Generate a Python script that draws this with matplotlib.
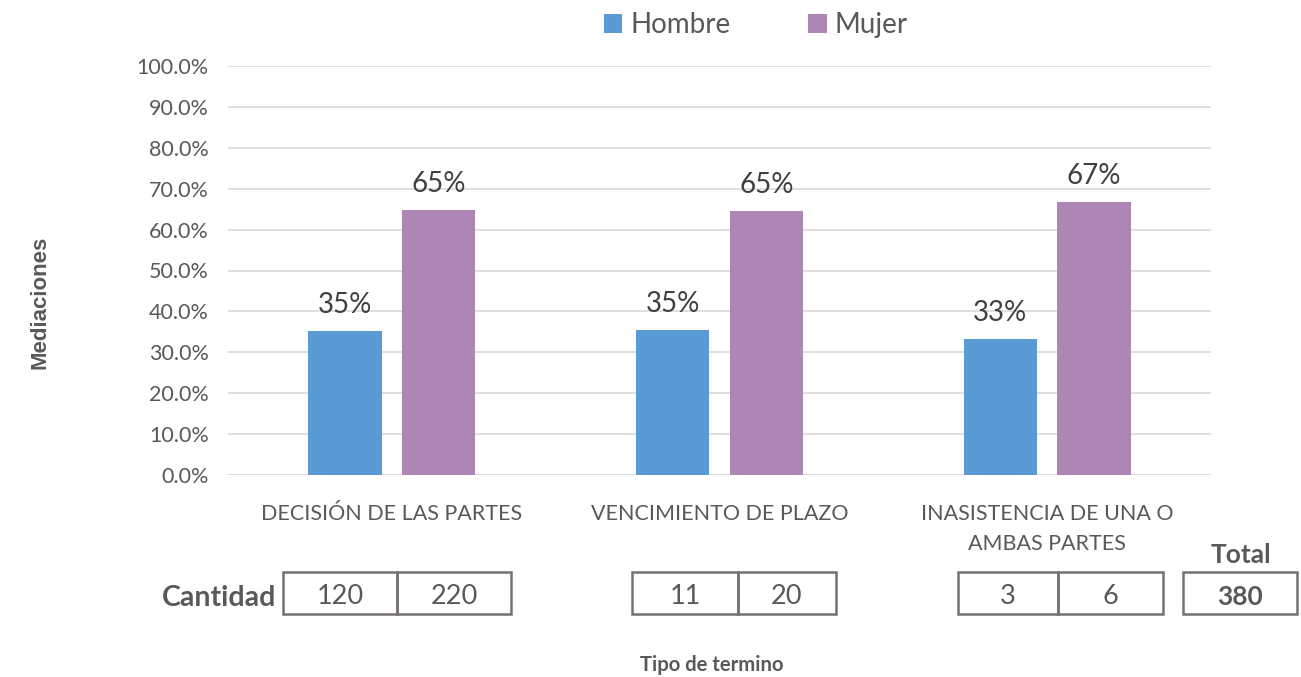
import numpy as np
import matplotlib
matplotlib.use('Agg')
import matplotlib.pyplot as plt
from matplotlib.patches import Rectangle

# data
categories = ['DECISIÓN DE LAS PARTES', 'VENCIMIENTO DE PLAZO', 'INASISTENCIA DE UNA O\nAMBAS PARTES']
hombre_pct = [35.3, 35.5, 33.3]
mujer_pct = [64.7, 64.5, 66.7]
hombre_lbl = ['35%', '35%', '33%']
mujer_lbl = ['65%', '65%', '67%']
hombre_cnt = [120, 11, 3]
mujer_cnt = [220, 20, 6]
total = 380
yticks = np.arange(0, 101, 10)

blue = '#5B9BD5'
purple = '#AD86B6'
grey = '#595959'

plt.rcParams['font.family'] = ['Lato', 'DejaVu Sans']

W, H = 1301, 677
fig = plt.figure(figsize=(W / 100, H / 100), dpi=100)
ax = fig.add_axes([228 / W, 1 - 475 / H, (1211 - 228) / W, (475 - 66) / H])

x = np.arange(len(categories))
bw = 0.223
off = 0.143
b1 = ax.bar(x - off, hombre_pct, bw, color=blue, label='Hombre', zorder=3)
b2 = ax.bar(x + off, mujer_pct, bw, color=purple, label='Mujer', zorder=3)

for bars, labels in ((b1, hombre_lbl), (b2, mujer_lbl)):
    for r, t in zip(bars, labels):
        ax.text(r.get_x() + r.get_width() / 2, r.get_height() + 3.2, t,
                ha='center', va='bottom', fontsize=20, color='#404040')

ax.set_xlim(-0.5, 2.5)
ax.set_ylim(0, 100)
ax.set_yticks(yticks)
ax.set_yticklabels([f'{v:.1f}%' for v in yticks], fontsize=15.5, color=grey)
ax.set_xticks(x)
ax.set_xticklabels(categories, fontsize=15.5, color=grey, linespacing=1.6)
ax.tick_params(axis='both', length=0)
ax.tick_params(axis='x', pad=21)
ax.tick_params(axis='y', pad=14)
ax.grid(axis='y', color='#D9D9D9', linewidth=1.2, zorder=0)
for s in ax.spines.values():
    s.set_visible(False)
ax.axhline(0, color='#D9D9D9', linewidth=1.2, zorder=1)

leg = fig.legend(handles=[b1, b2], loc='center', bbox_to_anchor=(756 / W, 1 - 25 / H),
                 ncol=2, frameon=False, fontsize=20, handlelength=0.65, handleheight=0.65,
                 handletextpad=0.3, columnspacing=2.8)
for t in leg.get_texts():
    t.set_color(grey)

# quantity table below the axis
def px(xp, yp):
    return xp / W, 1 - yp / H

box_top, box_bot = 572, 614
groups = [(283, 397, 511), (632, 738, 836), (958, 1058, 1163)]
for (l, m, r), hc, mc in zip(groups, hombre_cnt, mujer_cnt):
    for a, b, v in ((l, m, hc), (m, r, mc)):
        fig.patches.append(Rectangle(px(a, box_bot), (b - a) / W, (box_bot - box_top) / H,
                                     transform=fig.transFigure, fill=False,
                                     edgecolor='#767171', linewidth=1.8))
        fig.text(*px((a + b) / 2, 597), str(v), ha='center', va='center',
                 fontsize=19.5, color=grey)

fig.patches.append(Rectangle(px(1183, box_bot), (1297 - 1183) / W, (box_bot - box_top) / H,
                             transform=fig.transFigure, fill=False,
                             edgecolor='#767171', linewidth=1.8))
fig.text(*px(1240, 597), str(total), ha='center', va='center', fontsize=19,
         color=grey, fontweight='bold')
fig.text(*px(1241, 555), 'Total', ha='center', va='center', fontsize=19,
         color=grey, fontweight='bold')
fig.text(*px(219, 598), 'Cantidad', ha='center', va='center', fontsize=20.5,
         color=grey, fontweight='bold')

fig.text(*px(712, 665), 'Tipo de termino', ha='center', va='center', fontsize=14.6,
         color=grey, fontweight='bold')
fig.text(*px(40, 302), 'Mediaciones', ha='center', va='center', fontsize=16,
         color=grey, fontweight='bold', rotation=90, family='Liberation Sans')

fig.savefig('out.png', dpi=100, facecolor='white')
